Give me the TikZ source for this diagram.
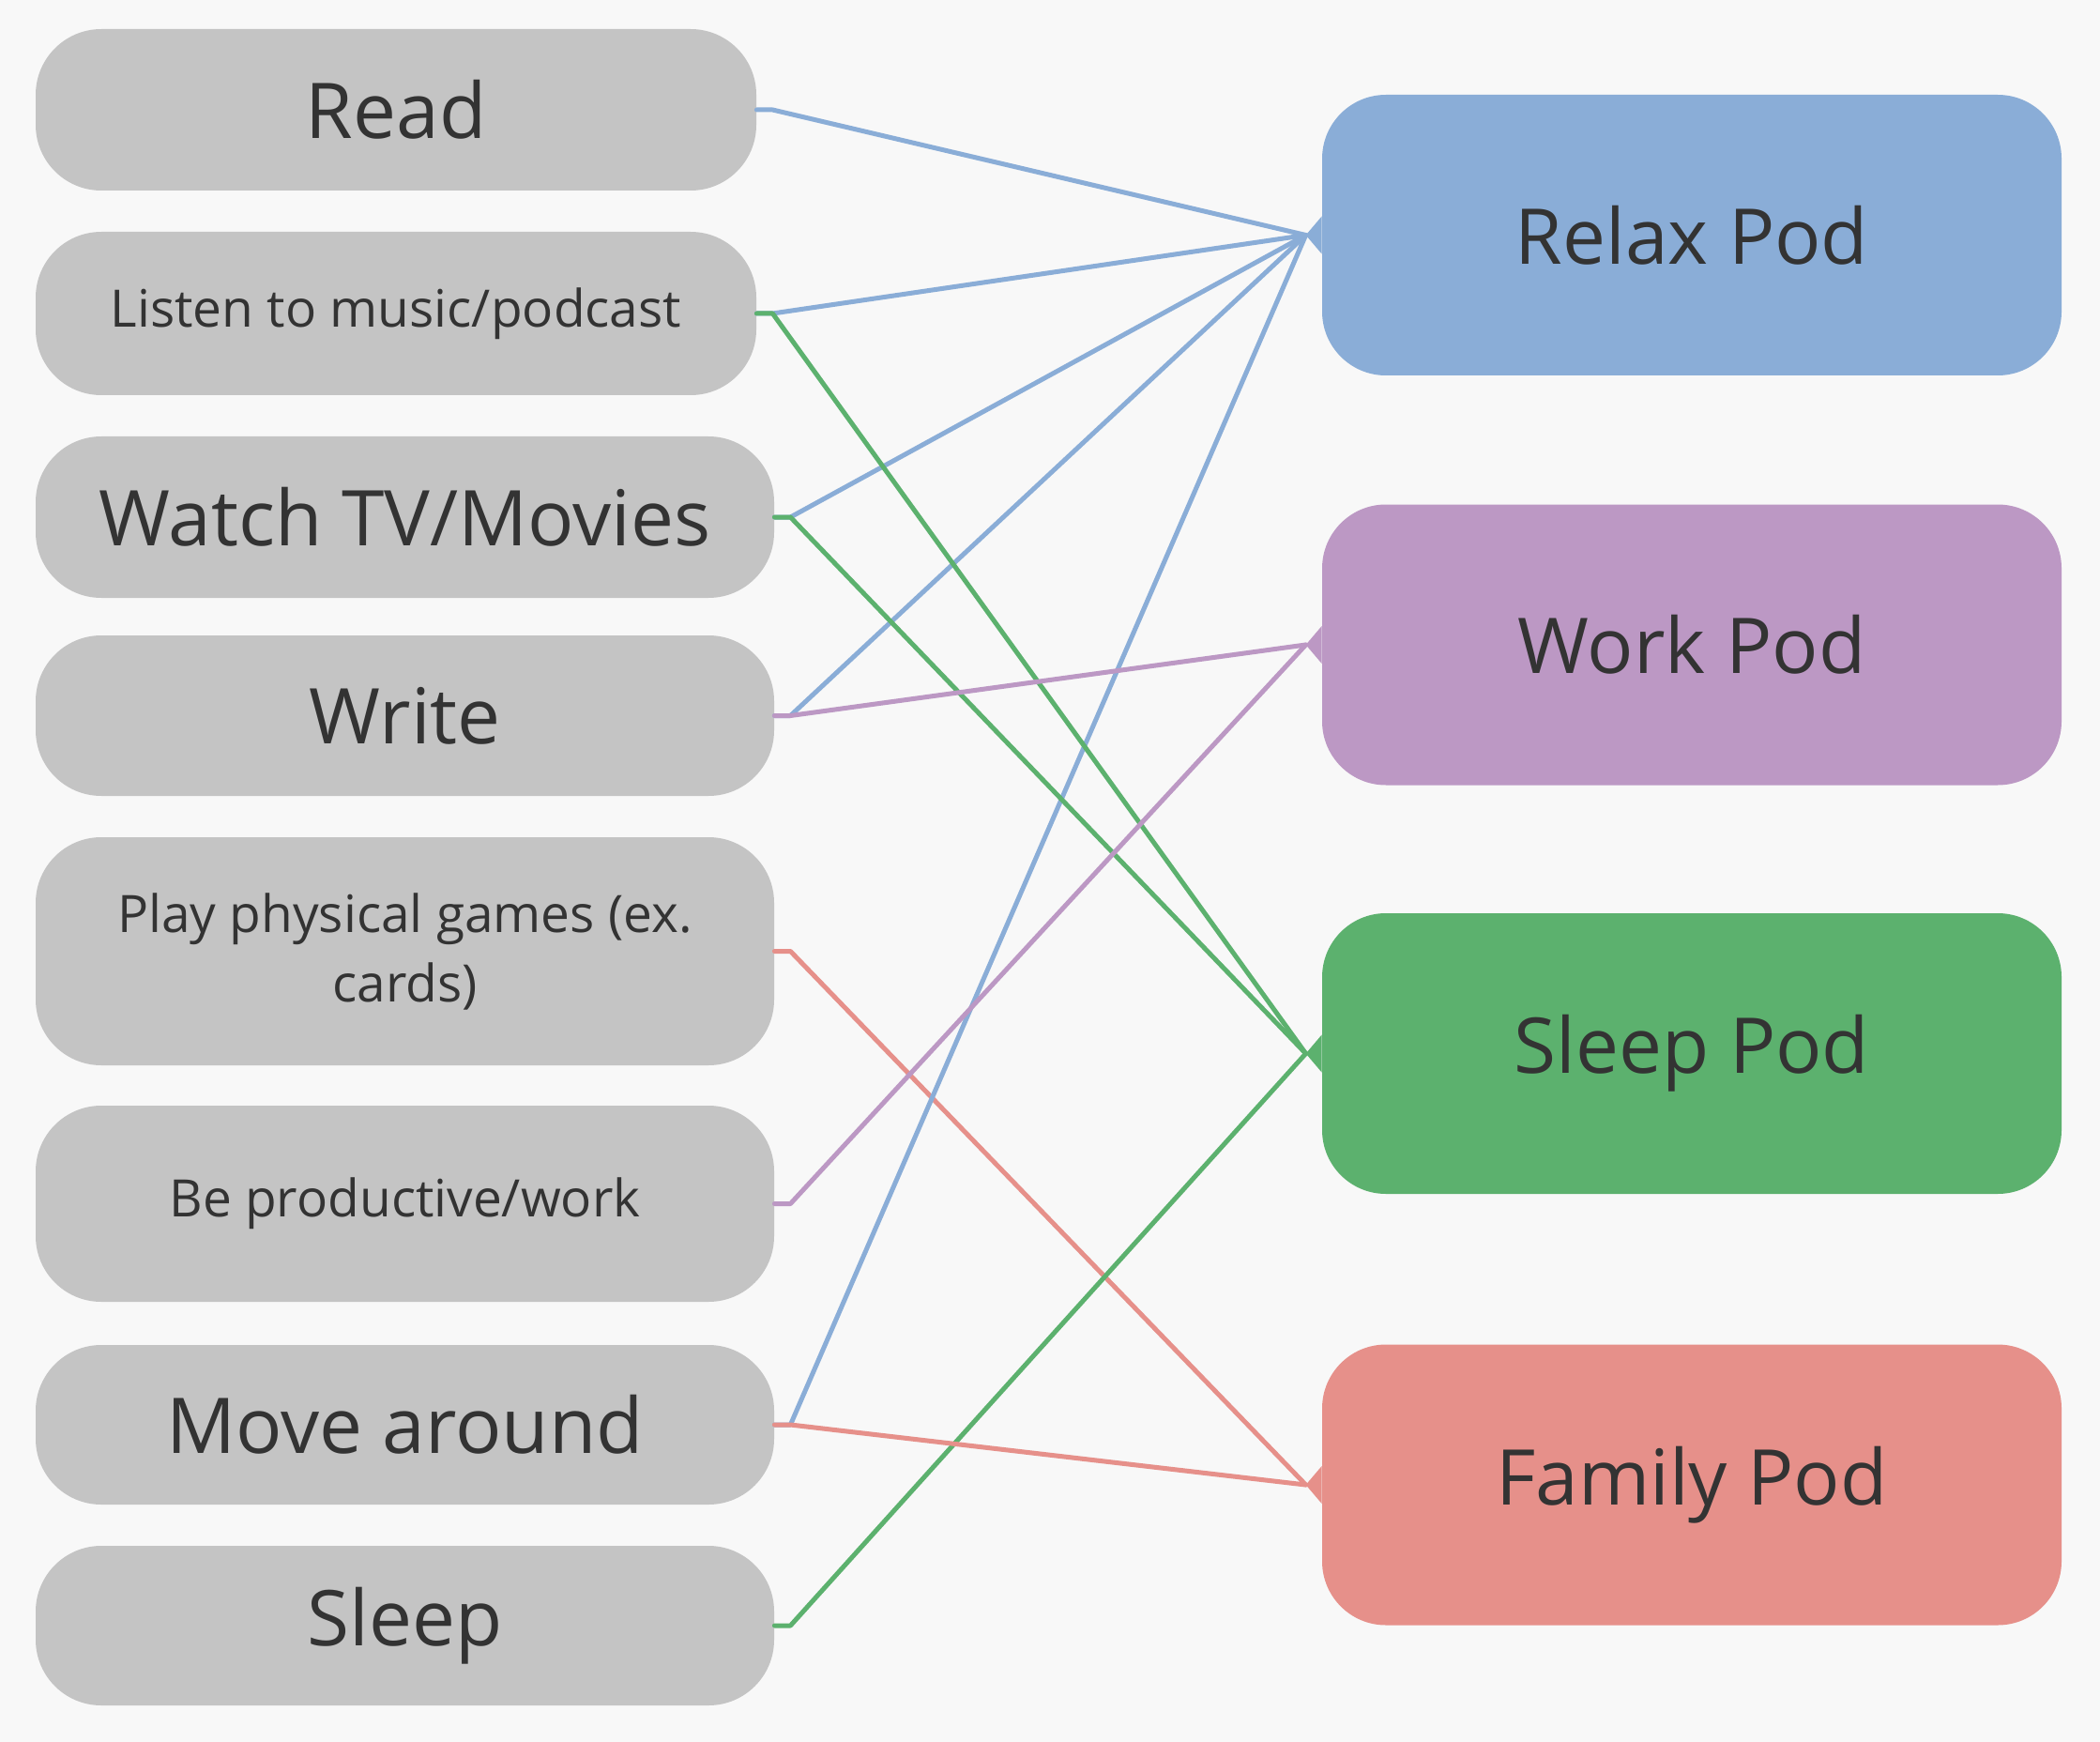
\documentclass[tikz,border=0pt]{standalone}
\usepackage{fontspec}
\setmainfont{Open Sans}
\definecolor{bg}{HTML}{F8F8F8}
\definecolor{boxgray}{HTML}{C4C4C4}
\definecolor{txt}{HTML}{333333}
\definecolor{relaxc}{HTML}{8AADD7}
\definecolor{workc}{HTML}{BC98C4}
\definecolor{sleepc}{HTML}{5CB16E}
\definecolor{familyc}{HTML}{E6908A}
\begin{document}
\begin{tikzpicture}[x=1pt,y=1pt,
  act/.style={rectangle, rounded corners=35pt, fill=boxgray, text=txt, inner sep=0pt,
    minimum width=393.5pt, minimum height=86pt, align=center, font=\fontsize{41}{50}\selectfont},
  small/.style={font=\fontsize{27.5}{37}\selectfont},
  pod/.style={rectangle, rounded corners=34pt, text=txt, inner sep=0pt,
    minimum width=394pt, minimum height=149.5pt, font=\fontsize{41}{50}\selectfont},
  link/.style={line width=2.5pt, line cap=round, line join=round}]
  \fill[bg] (0,0) rectangle (1119,-928);
  % activities
  \node[act, minimum width=384pt] (Read) at (211,-58.5) {Read};
  \node[act, small, minimum width=384pt, minimum height=87pt] (Listen) at (211,-167) {Listen to music/podcast};
  \node[act] (Watch) at (215.75,-275.5) {Watch TV/Movies};
  \node[act, minimum height=85.5pt] (Write) at (215.75,-381.25) {Write};
  \node[act, small, minimum height=121.5pt] (Play) at (215.75,-506.75) {Play physical games (ex.\\cards)};
  \node[act, small, minimum height=104.5pt] (Prod) at (215.75,-641.25) {Be productive/work};
  \node[act, minimum height=85pt] (Move) at (215.75,-759) {Move around};
  \node[act, minimum height=85pt] (Sleep) at (215.75,-866) {Sleep};
  % pods
  \node[pod, fill=relaxc] (RelaxPod) at (901.5,-125.25) {Relax Pod};
  \node[pod, fill=workc] (WorkPod) at (901.5,-343.5) {Work Pod};
  \node[pod, fill=sleepc] (SleepPod) at (901.5,-561.25) {Sleep Pod};
  \node[pod, fill=familyc] (FamilyPod) at (901.5,-791) {Family Pod};
  % links
  \foreach \A/\P/\C in {Play/FamilyPod/familyc, Read/RelaxPod/relaxc, Listen/RelaxPod/relaxc,
      Watch/RelaxPod/relaxc, Write/RelaxPod/relaxc, Move/RelaxPod/relaxc,
      Listen/SleepPod/sleepc, Watch/SleepPod/sleepc, Sleep/SleepPod/sleepc,
      Write/WorkPod/workc, Prod/WorkPod/workc, Move/FamilyPod/familyc}
    \draw[link,\C] (\A.east) -- ++(8.5,0) -- ([xshift=-8.5pt]\P.west);
  \foreach \P/\C in {RelaxPod/relaxc, WorkPod/workc, SleepPod/sleepc, FamilyPod/familyc}
    \fill[\C] ([xshift=-8.5pt]\P.west) -- ([yshift=10pt]\P.west) -- ([yshift=-10pt]\P.west) -- cycle;
\end{tikzpicture}
\end{document}
